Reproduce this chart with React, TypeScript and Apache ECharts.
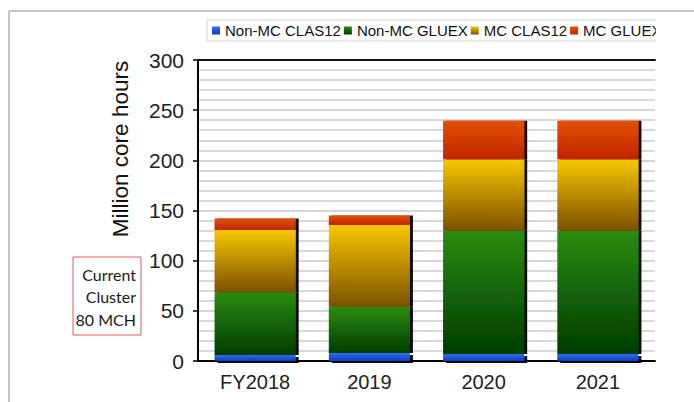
import React, { useEffect, useRef } from "react";
import * as echarts from "echarts";

const categories = ["FY2018", "2019", "2020", "2021"];
const seriesNames = ["Non-MC CLAS12", "Non-MC GLUEX", "MC CLAS12", "MC GLUEX"];
const nonMcClas12 = [6, 8, 7, 7];
const nonMcGluex = [62.5, 46, 123, 123];
const mcClas12 = [62, 81.5, 71, 71];
const mcGluex = [11.5, 9.5, 38.5, 38.5];
const yTicks = { min: 0, max: 300, interval: 50 };
const boxLines = ["Current", "Cluster", "80 MCH"];

const gradients: [string, string][] = [
  ["#2d6ff2", "#0b3cc2"],
  ["#2b8c12", "#003c00"],
  ["#f8c700", "#7c5100"],
  ["#e35200", "#bf2400"],
];

export default function App() {
  const ref = useRef<HTMLDivElement>(null);
  useEffect(() => {
    if (!ref.current) return;
    const chart = echarts.init(ref.current, undefined, { renderer: "svg" });
    const dataSets = [nonMcClas12, nonMcGluex, mcClas12, mcGluex];
    const font = "'Liberation Sans', Arial, Helvetica, sans-serif";
    chart.setOption({
      animation: false,
      backgroundColor: "#ffffff",
      textStyle: { fontFamily: font },
      legend: {
        data: seriesNames,
        left: 207,
        top: 20,
        icon: "rect",
        itemWidth: 8,
        itemHeight: 8,
        itemGap: 3,
        padding: [3, 5],
        borderColor: "#d4d4d4",
        borderWidth: 1,
        textStyle: { fontSize: 15, color: "#111", fontFamily: font, padding: [0, 0, 0, 0] },
      },
      grid: { left: 198, right: 39, top: 60, bottom: 41, containLabel: false },
      xAxis: [
        {
          type: "category",
          data: categories,
          axisLine: { show: true, lineStyle: { color: "#000", width: 2 } },
          axisTick: { show: false },
          axisLabel: { fontSize: 20, color: "#222", margin: 11, fontFamily: font },
        },
        {
          type: "category",
          data: categories,
          position: "top",
          axisLine: { show: true, onZero: false, lineStyle: { color: "#111", width: 2 } },
          axisTick: { show: false },
          axisLabel: { show: false },
        },
      ],
      yAxis: {
        type: "value",
        min: yTicks.min,
        max: yTicks.max,
        interval: yTicks.interval,
        axisLine: { show: true, lineStyle: { color: "#000", width: 2 } },
        axisTick: { show: true, length: 5, lineStyle: { color: "#000", width: 1.5 } },
        axisLabel: { fontSize: 21, color: "#222", margin: 14, fontFamily: font },
        splitLine: { show: true, lineStyle: { color: "#d6d6d6", width: 2 } },
        minorTick: { show: false, splitNumber: 5 },
        minorSplitLine: { show: true, lineStyle: { color: "#d9d9d9", width: 2 } },
      },
      series: dataSets.map((d, i) => ({
        name: seriesNames[i],
        type: "bar",
        stack: "total",
        barWidth: "71%",
        data: d,
        itemStyle: {
          color: new echarts.graphic.LinearGradient(0, 0, 0, 1, [
            { offset: 0, color: gradients[i][0] },
            { offset: 1, color: gradients[i][1] },
          ]),
          shadowColor: "rgba(0,0,0,0.95)",
          shadowBlur: 0,
          shadowOffsetX: 3,
          shadowOffsetY: i === 0 ? 2 : 0,
        },
      })),
      graphic: [
        {
          type: "rect",
          z: 100,
          shape: { x: 656, y: 14, width: 40, height: 34 },
          style: { fill: "#fff" },
        },
        {
          type: "line",
          z: 101,
          shape: { x1: 9, y1: 11, x2: 9, y2: 402 },
          style: { stroke: "#c4c4c4", lineWidth: 2 },
        },
        {
          type: "line",
          z: 101,
          shape: { x1: 9, y1: 11, x2: 694, y2: 11 },
          style: { stroke: "#c4c4c4", lineWidth: 2 },
        },
        {
          type: "text",
          x: 120,
          y: 149,
          rotation: Math.PI / 2,
          style: {
            text: "Million core hours",
            fontSize: 22.5,
            fontFamily: font,
            fill: "#111",
            textAlign: "center",
            textVerticalAlign: "middle",
          },
        },
        {
          type: "rect",
          shape: { x: 73, y: 257, width: 68, height: 78 },
          style: { fill: "#fff", stroke: "#e35a5a", lineWidth: 1 },
        },
        ...boxLines.map((t, i) => ({
          type: "text",
          x: 136,
          y: 274 + i * 22.5,
          style: {
            text: t,
            fontSize: 16,
            fontFamily: "Lato, 'Open Sans', sans-serif",
            fill: "#1a1a1a",
            textAlign: "right",
            textVerticalAlign: "middle",
          },
        })),
      ],
    });
    return () => chart.dispose();
  }, []);
  return (
    <div
      ref={ref}
      style={{ position: "fixed", left: 0, top: 0, width: 694, height: 402, background: "#fff" }}
    />
  );
}
